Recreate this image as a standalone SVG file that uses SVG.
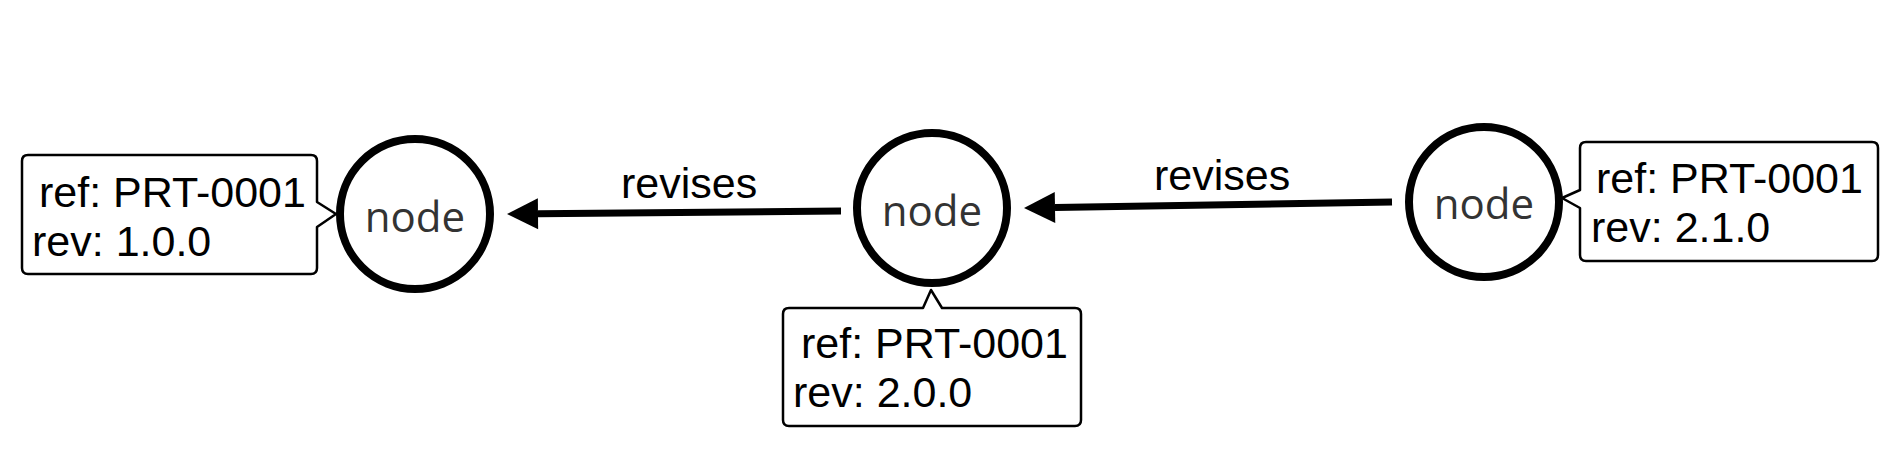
<svg xmlns="http://www.w3.org/2000/svg" width="1899" height="453" viewBox="0 0 1899 453">
<style>
.bg{fill:#ffffff}
.node circle{fill:#ffffff;stroke:#000000;stroke-width:8}
.node text{font-family:"Open Sans","DejaVu Sans",sans-serif;font-size:42px;fill:#333333;text-anchor:middle}
.callout{fill:#ffffff;stroke:#000000;stroke-width:2.5;stroke-linejoin:round}
.lbl{font-family:"Liberation Sans",Arial,sans-serif;font-size:43px;fill:#000000}
.edge{fill:none;stroke:#000000;stroke-width:7;marker-end:url(#arrow)}
</style>
<defs>
<marker id="arrow" markerUnits="userSpaceOnUse" viewBox="0 -16 32 32" refX="0" refY="0" markerWidth="32" markerHeight="32" orient="auto" overflow="visible">
<path d="M0,-15.5 L31,0 L0,15.5 Z" fill="#000000"/>
</marker>
</defs>
<rect class="bg" x="0" y="0" width="1899" height="453"/>
<g id="connectors">
<g id="edge-n2-n1">
<path class="edge" d="M841,211 L538,213.7"/>
<text class="lbl" x="621" y="198">revises</text>
</g>
<g id="edge-n3-n2">
<path class="edge" d="M1392,202 L1055,207.5"/>
<text class="lbl" x="1154" y="190">revises</text>
</g>
</g>
<g id="node1" class="node">
<circle cx="415" cy="214" r="75"/>
<text x="415" y="232">node</text>
</g>
<g id="node2" class="node">
<circle cx="932" cy="208" r="75"/>
<text x="932" y="226">node</text>
</g>
<g id="node3" class="node">
<circle cx="1484" cy="202" r="75"/>
<text x="1484" y="219">node</text>
</g>
<g id="callout1">
<path class="callout" d="M28,155 H311 Q317,155 317,161 V202 L336,214 L317,227 V268 Q317,274 311,274 H28 Q22,274 22,268 V161 Q22,155 28,155 Z"/>
<text class="lbl" x="39" y="207">ref: PRT-0001</text>
<text class="lbl" x="32" y="256">rev: 1.0.0</text>
</g>
<g id="callout2">
<path class="callout" d="M789,308 H923 L931,290 L942,308 H1075 Q1081,308 1081,314 V420 Q1081,426 1075,426 H789 Q783,426 783,420 V314 Q783,308 789,308 Z"/>
<text class="lbl" x="801" y="358">ref: PRT-0001</text>
<text class="lbl" x="793" y="407">rev: 2.0.0</text>
</g>
<g id="callout3">
<path class="callout" d="M1586,142 H1872 Q1878,142 1878,148 V255 Q1878,261 1872,261 H1586 Q1580,261 1580,255 V208 L1562,198 L1580,190 V148 Q1580,142 1586,142 Z"/>
<text class="lbl" x="1596" y="193">ref: PRT-0001</text>
<text class="lbl" x="1591" y="242">rev: 2.1.0</text>
</g>
</svg>
